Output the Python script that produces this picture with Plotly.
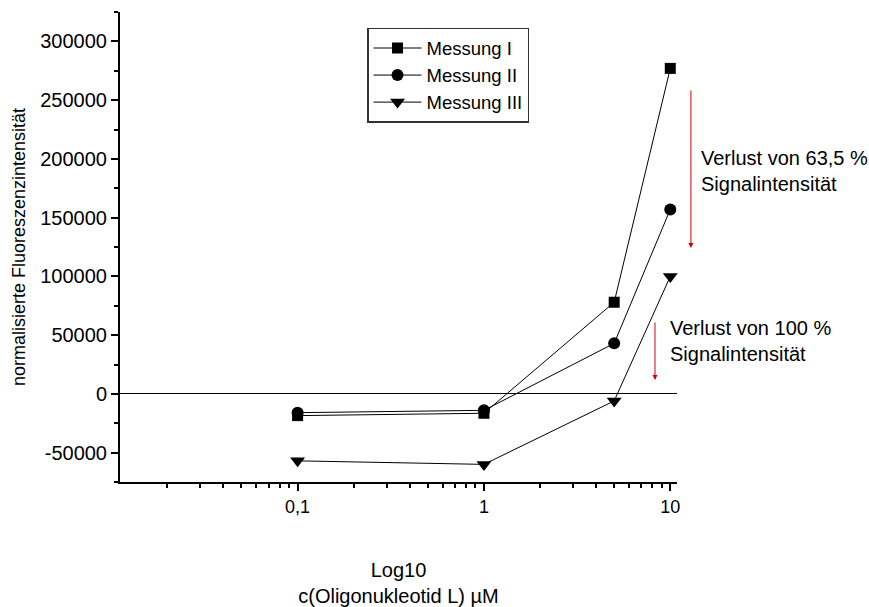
import plotly.graph_objects as go

conc = [0.1, 1, 5, 10]
messung_1 = [-18500, -16500, 78000, 277000]
messung_2 = [-16000, -14000, 43000, 157000]
messung_3 = [-57000, -60000, -6000, 100000]
series_names = ["Messung I", "Messung II", "Messung III"]

x_tickvals = [0.1, 1, 10]
x_ticktext = ["0,1", "1", "10"]
y_tickvals = [-50000, 0, 50000, 100000, 150000, 200000, 250000, 300000]
y_ticktext = ["-50000", "0", "50000", "100000", "150000", "200000", "250000", "300000"]

FONT = "Liberation Sans, Arial, sans-serif"

fig = go.Figure()
symbols = ["square", "circle", "triangle-down"]
sizes = [11, 12, 13]
for name, vals, sym, sz in zip(series_names, [messung_1, messung_2, messung_3], symbols, sizes):
    fig.add_trace(go.Scatter(
        x=conc, y=vals, name=name, mode="lines+markers",
        line=dict(color="black", width=1),
        marker=dict(symbol=sym, size=sz, color="black"),
        cliponaxis=False,
    ))

fig.update_layout(
    width=869, height=607,
    margin=dict(l=120, r=192, t=12, b=125),
    paper_bgcolor="white", plot_bgcolor="white",
    font=dict(family=FONT, size=18, color="black"),
    showlegend=True,
    legend=dict(
        x=0.4435, y=0.966, xanchor="left", yanchor="top",
        bgcolor="white", bordercolor="#333", borderwidth=1.5,
        font=dict(size=18.5), itemwidth=48,
    ),
)

fig.update_xaxes(
    type="log", range=[-1.953, 1.036],
    tickmode="array", tickvals=x_tickvals, ticktext=x_ticktext,
    tickfont=dict(size=18),
    ticks="outside", ticklen=7, tickwidth=1.5, tickcolor="black",
    showline=True, linewidth=2, linecolor="black", mirror=False,
    showgrid=False, zeroline=False,
    minor=dict(ticks="outside", ticklen=4, tickwidth=1.5, tickcolor="black",
               tickmode="linear", dtick="D1", showgrid=False),
    title=dict(text="Log10<br>c(Oligonukleotid L) µM", font=dict(size=20), standoff=47),
    automargin=False,
)
fig.update_yaxes(
    range=[-75000, 325000],
    tickmode="array", tickvals=y_tickvals, ticktext=y_ticktext,
    tickfont=dict(size=20),
    ticks="outside", ticklen=7, tickwidth=1.5, tickcolor="black",
    showline=True, linewidth=2, linecolor="black", mirror=False,
    showgrid=False,
    zeroline=True, zerolinecolor="black", zerolinewidth=1,
    minor=dict(ticks="outside", ticklen=4, tickwidth=1.5, tickcolor="black",
               tickmode="linear", tick0=0, dtick=25000, showgrid=False),
    title=dict(text="normalisierte Fluoreszenzintensität", font=dict(size=18), standoff=10),
    automargin=False,
)

RED = "#d40000"
fig.add_annotation(xref="paper", yref="paper", x=1.025, y=0.4979, ax=0, ay=-159,
                   showarrow=True, arrowhead=2, arrowsize=1, arrowwidth=1, arrowcolor=RED, text="")
fig.add_annotation(xref="paper", yref="paper", x=0.9605, y=0.217, ax=0, ay=-59,
                   showarrow=True, arrowhead=2, arrowsize=1, arrowwidth=1, arrowcolor=RED, text="")
fig.add_annotation(xref="paper", yref="paper", x=1.0395, y=0.6617, xanchor="left", yanchor="middle",
                   align="left", showarrow=False, text="Verlust von 63,5 %<br>Signalintensität",
                   font=dict(size=20))
fig.add_annotation(xref="paper", yref="paper", x=0.9838, y=0.30, xanchor="left", yanchor="middle",
                   align="left", showarrow=False, text="Verlust von 100 %<br>Signalintensität",
                   font=dict(size=20))

fig.write_html("out.html")
